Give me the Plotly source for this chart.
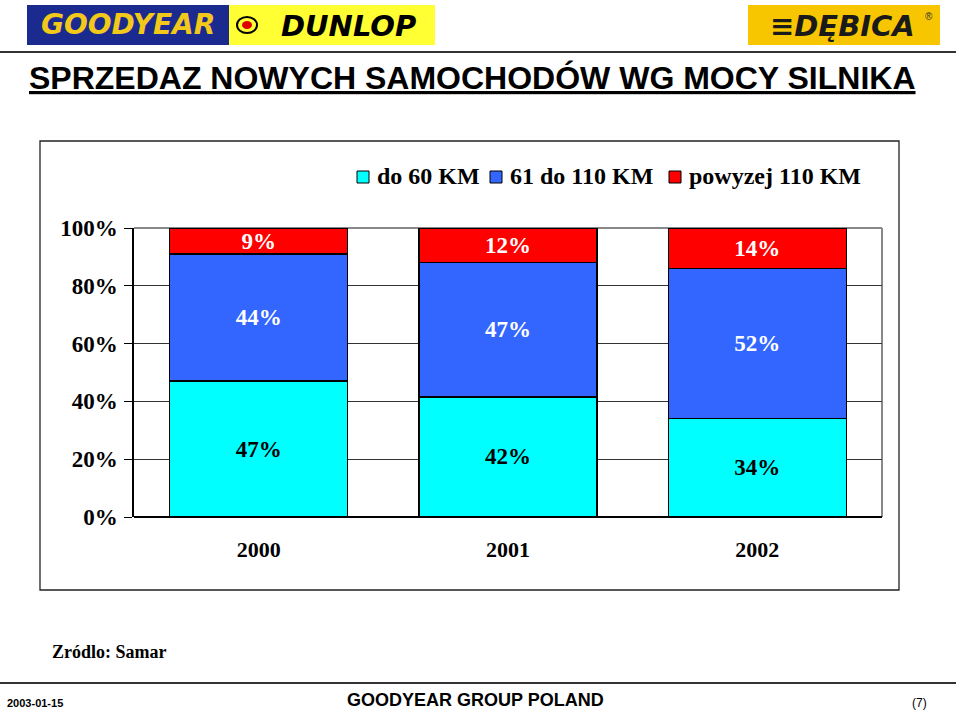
import plotly.graph_objects as go

# Dane
lata = ["2000", "2001", "2002"]
do_60 = [47, 42, 34]
od_61_do_110 = [44, 47, 52]
powyzej_110 = [9, 12, 14]

serie = [
    ("do 60 KM", do_60, "#00FFFF", "black"),
    ("61 do 110 KM", od_61_do_110, "#3366FF", "white"),
    ("powyzej 110 KM", powyzej_110, "#FF0000", "white"),
]

W, H = 960, 710
L, R, T, B = 134, 882, 228, 517   # obszar wykresu w pikselach


def px_x(p):
    return (p - L) / (R - L)


def px_y(p):
    return (B - p) / (B - T)


fig = go.Figure()

for nazwa, wartosci, kolor, kolor_tekstu in serie:
    fig.add_trace(go.Bar(
        x=lata, y=wartosci, name=nazwa,
        marker=dict(color=kolor, line=dict(color="black", width=1.5)),
        text=wartosci, texttemplate="%{text}%",
        textposition="inside", insidetextanchor="middle",
        textfont=dict(family="Liberation Serif", size=23, color=kolor_tekstu, weight="bold"),
        constraintext="none", hoverinfo="skip", showlegend=False,
    ))

shapes = []
# ramka wykresu
shapes.append(dict(type="rect", xref="paper", yref="paper",
                   x0=px_x(40), x1=px_x(899), y0=px_y(590), y1=px_y(141),
                   line=dict(color="#222222", width=1.3), layer="below"))
# prawa i górna krawedz obszaru wykresu
shapes.append(dict(type="line", xref="paper", yref="paper", x0=1, x1=1, y0=0, y1=1,
                   line=dict(color="#888888", width=2), layer="below"))
shapes.append(dict(type="line", xref="paper", yref="paper", x0=0, x1=1, y0=1, y1=1,
                   line=dict(color="#888888", width=2), layer="below"))
# linie nagłówka i stopki
shapes.append(dict(type="line", xref="paper", yref="paper", x0=px_x(0), x1=px_x(956),
                   y0=px_y(52), y1=px_y(52), line=dict(color="#333333", width=2)))
shapes.append(dict(type="line", xref="paper", yref="paper", x0=px_x(0), x1=px_x(956),
                   y0=px_y(683), y1=px_y(683), line=dict(color="#333333", width=2)))
# logotypy (tła)
shapes.append(dict(type="rect", xref="paper", yref="paper", x0=px_x(27), x1=px_x(229),
                   y0=px_y(45), y1=px_y(5), fillcolor="#1B2A8E", line=dict(width=0)))
shapes.append(dict(type="rect", xref="paper", yref="paper", x0=px_x(229), x1=px_x(435),
                   y0=px_y(45), y1=px_y(5), fillcolor="#FFFF33", line=dict(width=0)))
shapes.append(dict(type="rect", xref="paper", yref="paper", x0=px_x(748), x1=px_x(940),
                   y0=px_y(45), y1=px_y(5), fillcolor="#F7C600", line=dict(width=0)))
shapes.append(dict(type="circle", xref="paper", yref="paper", x0=px_x(237), x1=px_x(257),
                   y0=px_y(33), y1=px_y(17), fillcolor="#FFFF33",
                   line=dict(color="black", width=2)))
shapes.append(dict(type="circle", xref="paper", yref="paper", x0=px_x(242), x1=px_x(252),
                   y0=px_y(29), y1=px_y(21), fillcolor="#E00000", line=dict(width=0)))

# legenda rysowana recznie (kwadraty + opisy)
legenda_x = [357, 490, 669]
for (nazwa, _, kolor, _), lx in zip(serie, legenda_x):
    shapes.append(dict(type="rect", xref="paper", yref="paper",
                       x0=px_x(lx), x1=px_x(lx + 12), y0=px_y(183), y1=px_y(171),
                       fillcolor=kolor, line=dict(color="black", width=1)))

annotations = [
    dict(text="GOODYEAR", x=px_x(128), y=px_y(25), font=dict(family="DejaVu Sans", size=28,
         color="#F2C81A", weight="bold", style="italic")),
    dict(text="DUNLOP", x=px_x(348), y=px_y(26), font=dict(family="DejaVu Sans", size=29,
         color="black", weight="bold", style="italic")),
    dict(text="≡DĘBICA", x=px_x(842), y=px_y(26), font=dict(family="DejaVu Sans", size=29,
         color="#1a1a1a", weight="bold", style="italic")),
    dict(text="®", x=px_x(929), y=px_y(16), font=dict(family="Liberation Sans", size=10,
         color="#333333")),
    dict(text="<u>SPRZEDAZ NOWYCH SAMOCHODÓW WG MOCY SILNIKA</u>", x=px_x(27), y=px_y(78),
         xanchor="left", font=dict(family="Liberation Sans", size=32, color="black",
                                   weight="bold")),
    dict(text="Zródlo: Samar", x=px_x(50), y=px_y(652), xanchor="left",
         font=dict(family="Liberation Serif", size=18, color="black", weight="bold")),
    dict(text="2003-01-15", x=px_x(5), y=px_y(703), xanchor="left",
         font=dict(family="Liberation Sans Narrow, Liberation Sans", size=11, color="black",
                   weight="bold")),
    dict(text="GOODYEAR GROUP POLAND", x=px_x(475), y=px_y(700),
         font=dict(family="Liberation Sans", size=18, color="black", weight="bold")),
    dict(text="(7)", x=px_x(919), y=px_y(703),
         font=dict(family="Liberation Sans", size=12, color="black")),
]
for (nazwa, _, _, _), lx in zip(serie, legenda_x):
    annotations.append(dict(text=nazwa, x=px_x(lx + 18), y=px_y(176), xanchor="left",
                            font=dict(family="Liberation Serif", size=24, color="black",
                                      weight="bold")))
for a in annotations:
    a.update(xref="paper", yref="paper", showarrow=False)
    a.setdefault("xanchor", "center")
    a.setdefault("yanchor", "middle")

fig.update_layout(
    barmode="stack", barnorm="percent", bargap=0.286,
    width=W, height=H,
    margin=dict(l=L, r=W - R, t=T, b=H - B, pad=0),
    paper_bgcolor="white", plot_bgcolor="white",
    font=dict(family="Liberation Serif", color="black"),
    showlegend=False,
    xaxis=dict(showline=False, ticks="", tickfont=dict(size=22, weight="bold"),
               ticklabelstandoff=17, showgrid=False),
    yaxis=dict(range=[0, 100], dtick=20, ticksuffix="%", showline=True, linecolor="black",
               linewidth=1.5, ticks="outside", ticklen=8, tickcolor="black",
               showgrid=True, gridcolor="#333333", gridwidth=1.3,
               tickfont=dict(size=23, weight="bold"), zeroline=True,
               zerolinecolor="black", zerolinewidth=1.5, ticklabelstandoff=2),
    shapes=shapes, annotations=annotations,
)

fig.write_html("out.html", config={"displayModeBar": False},
               post_script="document.body.style.margin='0px';")
